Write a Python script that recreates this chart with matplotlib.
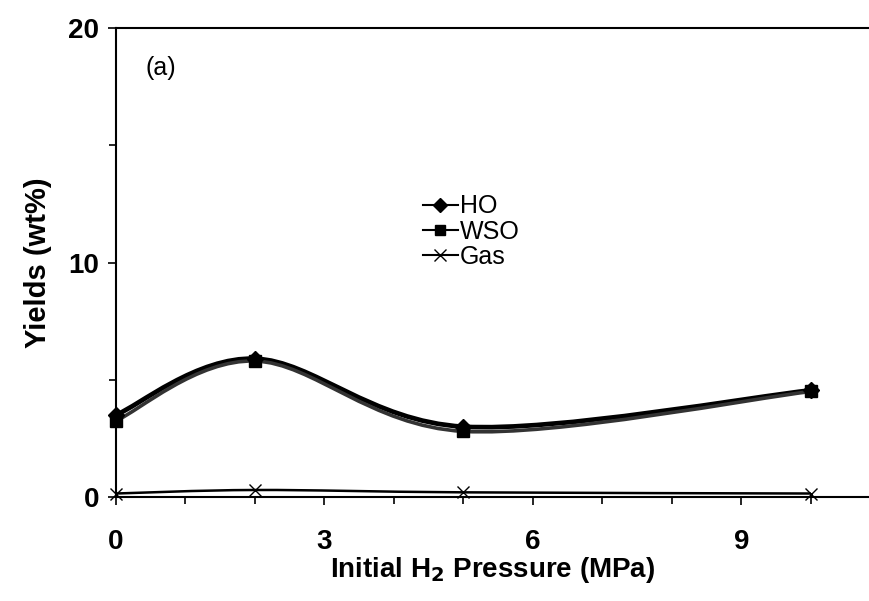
import numpy as np
import matplotlib
matplotlib.use("Agg")
import matplotlib.pyplot as plt
from matplotlib.path import Path
from matplotlib.patches import PathPatch
from matplotlib.lines import Line2D

# données
pressure = [0, 2, 5, 10]
ho = [3.5, 5.9, 3.0, 4.55]
wso = [3.25, 5.8, 2.8, 4.5]
gas = [0.15, 0.3, 0.2, 0.15]

plt.rcParams['font.family'] = ['Liberation Sans', 'DejaVu Sans']


def smooth_path(x, y):
    # courbe lissée type Excel (Bezier, Catmull-Rom)
    p = np.column_stack([x, y]).astype(float)
    n = len(p)
    verts = [p[0]]
    codes = [Path.MOVETO]
    for i in range(n - 1):
        p0 = p[i - 1] if i > 0 else p[i]
        p3 = p[i + 2] if i + 2 < n else p[i + 1]
        c1 = p[i] + (p[i + 1] - p0) / 6
        c2 = p[i + 1] - (p3 - p[i]) / 6
        verts += [c1, c2, p[i + 1]]
        codes += [Path.CURVE4] * 3
    return Path(verts, codes)


fig = plt.figure(figsize=(8.7, 6.01), dpi=100)
ax = fig.add_axes([0.1333, 0.173, 0.8667, 0.7804])

series = [
    (ho, "HO", "D", 3.4, "black", 8),
    (wso, "WSO", "s", 2.6, "#333333", 8),
    (gas, "Gas", "x", 1.8, "black", 9),
]
handles = []
for vals, name, mk, lw, col, ms in series:
    ax.add_patch(PathPatch(smooth_path(pressure, vals), fill=False, lw=lw, edgecolor=col, zorder=2))
    ax.plot(pressure, vals, ls="none", marker=mk, color="black", ms=ms, mew=1.0, zorder=3, clip_on=False)
    handles.append(Line2D([], [], color="black", lw=1.5, marker=mk, ms=ms - 1, mew=1.0))

ax.set_xlim(0, 10.85)
ax.set_ylim(0, 20)
ax.set_xticks([0, 3, 6, 9])
ax.set_xticks(range(0, 11), minor=True)
ax.set_yticks([0, 10, 20])
ax.set_yticks([5, 15], minor=True)

ax.spines['right'].set_visible(False)
for s in ['left', 'bottom', 'top']:
    ax.spines[s].set_linewidth(1.5)

ax.tick_params(axis='both', which='both', direction='out', width=1.2, colors='black')
ax.tick_params(axis='both', which='major', length=6, labelsize=20)
ax.tick_params(axis='x', which='major', pad=17)
ax.tick_params(axis='y', which='major', pad=6)
ax.tick_params(axis='both', which='minor', length=5)
for lab in ax.get_xticklabels() + ax.get_yticklabels():
    lab.set_fontweight('bold')

ax.set_xlabel("Initial H$_\\mathbf{2}$ Pressure (MPa)", fontsize=20, fontweight='bold', labelpad=0)
ax.set_ylabel("Yields (wt%)", fontsize=21, fontweight='bold', labelpad=12)

ax.text(0.42, 18.3, "(a)", fontsize=18, va='center')

ax.legend(handles, ["HO", "WSO", "Gas"], loc='upper left', bbox_to_anchor=(0.39, 0.672),
          frameon=False, fontsize=18, handlelength=1.4, handletextpad=0.1,
          labelspacing=0.05, borderpad=0)

fig.savefig("out.png", dpi=100)
